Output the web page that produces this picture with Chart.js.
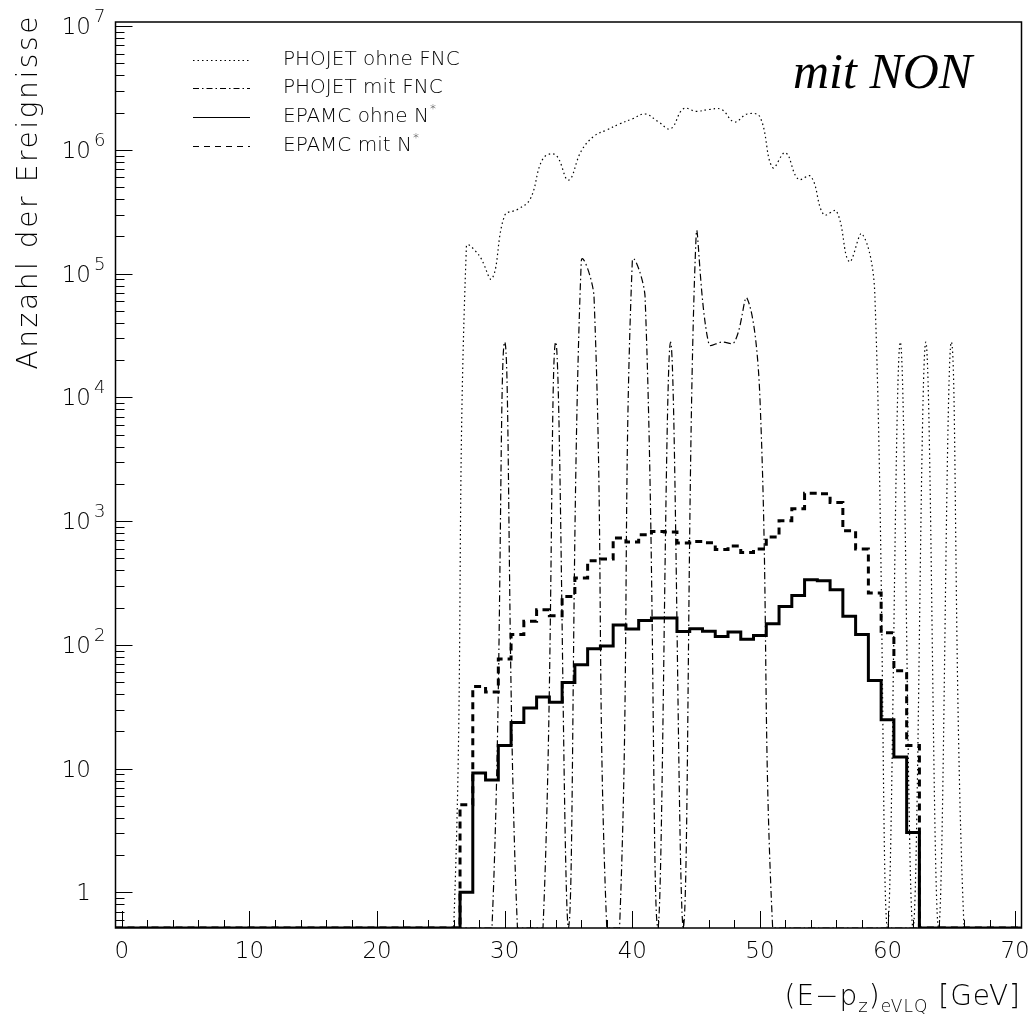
<!DOCTYPE html>
<html>
<head>
<meta charset="utf-8">
<script src="https://cdn.jsdelivr.net/npm/chart.js@4.4.1/dist/chart.umd.min.js"></script>
<style>
  html, body { margin: 0; padding: 0; background: #fff; }
  #wrap { width: 1032px; height: 1020px; }
</style>
</head>
<body>
<div id="wrap"><canvas id="chart" width="1032" height="1020"></canvas></div>
<script>
// bin centres of the (E-pz) histograms, 1 GeV bins
const binCenters = [
  0, 1, 2, 3, 4, 5, 6, 7, 8, 9, 10, 11, 12, 13, 14, 15, 16, 17, 18, 19,
  20, 21, 22, 23, 24, 25, 26, 27, 28, 29, 30, 31, 32, 33, 34, 35, 36, 37, 38, 39,
  40, 41, 42, 43, 44, 45, 46, 47, 48, 49, 50, 51, 52, 53, 54, 55, 56, 57, 58, 59,
  60, 61, 62, 63, 64, 65, 66, 67, 68, 69, 70
];

// PHOJET ohne FNC (smooth dotted curve)
const phojetOhneFNC = [
  0, 0, 0, 0, 0, 0, 0, 0, 0, 0, 0, 0, 0, 0, 0, 0, 0, 0, 0, 0,
  0, 0, 0, 0, 0, 0, 0, 1.66e5, 1.4e5, 9.1e4, 2.95e5, 3.3e5, 4.0e5, 8.5e5, 9.1e5, 5.7e5, 9.8e5, 1.29e6, 1.45e6, 1.62e6,
  1.78e6, 1.95e6, 1.7e6, 1.48e6, 2.15e6, 2.05e6, 2.12e6, 2.12e6, 1.68e6, 1.95e6, 1.85e6, 7.2e5, 9.5e5, 5.8e5, 6.1e5, 3.0e5, 3.2e5, 1.25e5, 2.1e5, 7e4,
  0, 2.8e4, 0, 2.8e4, 0, 2.8e4, 0, 0, 0, 0, 0
];

// PHOJET mit FNC (smooth dash-dotted curve)
const phojetMitFNC = [
  0, 0, 0, 0, 0, 0, 0, 0, 0, 0, 0, 0, 0, 0, 0, 0, 0, 0, 0, 0,
  0, 0, 0, 0, 0, 0, 0, 0, 0, 0, 2.8e4, 0, 0, 0, 2.8e4, 0, 1.25e5, 6.5e4, 0, 0,
  1.25e5, 6.5e4, 0, 2.8e4, 0, 2.0e5, 2.7e4, 2.8e4, 2.8e4, 6.3e4, 1.0e4, 0, 0, 0, 0, 0, 0, 0, 0, 0,
  0, 0, 0, 0, 0, 0, 0, 0, 0, 0, 0
];

// EPAMC ohne N* (solid histogram)
const epamcOhneN = [
  0, 0, 0, 0, 0, 0, 0, 0, 0, 0, 0, 0, 0, 0, 0, 0, 0, 0, 0, 0,
  0, 0, 0, 0, 0, 0, 0, 1.0, 9.2, 8.1, 15.4, 23.6, 30.9, 37.9, 34.3, 49.7, 69, 93, 98, 145,
  134, 157, 165, 165, 128, 135, 129, 117, 127, 111, 119, 148, 204, 250, 336, 329, 279, 170, 121, 51.6,
  24.8, 12.4, 3.05, 0, 0, 0, 0, 0, 0, 0, 0
];

// EPAMC mit N* (dashed histogram)
const epamcMitN = [
  0, 0, 0, 0, 0, 0, 0, 0, 0, 0, 0, 0, 0, 0, 0, 0, 0, 0, 0, 0,
  0, 0, 0, 0, 0, 0, 0, 5.1, 46, 41.6, 77, 121, 155, 192, 172, 246, 347, 478, 493, 729,
  677, 775, 824, 815, 664, 684, 668, 590, 630, 557, 594, 743, 1005, 1257, 1683, 1660, 1413, 835, 594, 262,
  125, 61.8, 15.4, 0, 0, 0, 0, 0, 0, 0, 0
];

const xMin = -0.5, xMax = 70.5;
const yMin = 0.515, yMax = 1.08e7;
const xLabelTicks = [0, 10, 20, 30, 40, 50, 60, 70];

const FONT = "'DejaVu Sans', sans-serif";

// empty bins sit on the lower edge of the log axis
function curvePoints(vals) {
  return vals.map((v, i) => ({ x: binCenters[i], y: Math.max(v, yMin) }));
}
function histPoints(vals) {
  const pts = vals.map((v, i) => ({ x: binCenters[i] - 0.5, y: Math.max(v, yMin) }));
  const last = vals.length - 1;
  pts.push({ x: binCenters[last] + 0.5, y: Math.max(vals[last], yMin) });
  return pts;
}

const legendDash = [[1.5, 3], [6, 3, 1.5, 3], [], [6, 5]];

const decor = {
  id: 'decor',
  afterDraw(chart) {
    const { ctx, chartArea: a } = chart;
    const xs = chart.scales.x, ys = chart.scales.y;
    ctx.save();
    ctx.strokeStyle = '#000';
    ctx.fillStyle = '#000';
    ctx.lineWidth = 1;

    // inward ticks
    ys.ticks.forEach(t => {
      const py = Math.round(ys.getPixelForValue(t.value)) + 0.5;
      ctx.beginPath();
      ctx.moveTo(a.left, py);
      ctx.lineTo(a.left + (t.major ? 17 : 9), py);
      ctx.stroke();
    });
    xs.ticks.forEach(t => {
      const px = Math.round(xs.getPixelForValue(t.value)) + 0.5;
      ctx.beginPath();
      ctx.moveTo(px, a.bottom);
      ctx.lineTo(px, a.bottom - (t.major ? 17 : 8));
      ctx.stroke();
    });

    // frame
    ctx.lineWidth = 1.5;
    ctx.strokeRect(a.left, a.top, a.right - a.left, a.bottom - a.top);

    // y labels
    ys.ticks.filter(t => t.major).forEach(t => {
      const py = ys.getPixelForValue(t.value);
      const e = Math.round(Math.log10(t.value));
      ctx.font = '200 23px ' + FONT;
      ctx.textAlign = 'right';
      ctx.textBaseline = 'alphabetic';
      ctx.fillText(e === 0 ? '1' : '10', 91, py + 8);
      if (e > 1) {
        ctx.font = '200 18px ' + FONT;
        ctx.textAlign = 'left';
        ctx.fillText(String(e), 94, py - 4);
      }
    });

    // x labels
    ctx.font = '200 23px ' + FONT;
    ctx.textAlign = 'center';
    ctx.textBaseline = 'alphabetic';
    xLabelTicks.forEach(v => {
      ctx.fillText(String(v), xs.getPixelForValue(v), 958);
    });

    // x title with subscripts, right aligned
    const parts = [
      ['(E\u2212p', 28, 0], ['z', 18, 7], [')', 28, 0], ['eVLQ', 17, 7], [' [GeV]', 28, 0]
    ];
    ctx.letterSpacing = '1px';
    let w = 0;
    parts.forEach(p => { ctx.font = '200 ' + p[1] + 'px ' + FONT; w += ctx.measureText(p[0]).width; });
    let cx = 1021 - w;
    ctx.textAlign = 'left';
    parts.forEach(p => {
      ctx.font = '200 ' + p[1] + 'px ' + FONT;
      ctx.fillText(p[0], cx, 1005 + p[2]);
      cx += ctx.measureText(p[0]).width;
    });

    // y title
    ctx.save();
    ctx.translate(30, 14);
    ctx.rotate(-Math.PI / 2);
    ctx.font = '200 28px ' + FONT;
    ctx.letterSpacing = '2.6px';
    ctx.textAlign = 'right';
    ctx.textBaseline = 'middle';
    ctx.fillText('Anzahl der Ereignisse', 0, 0);
    ctx.restore();
    ctx.letterSpacing = '0px';

    // legend
    const rows = [60, 88, 117, 146];
    chart.data.datasets.forEach((ds, i) => {
      const y = rows[i] + 0.5;
      ctx.lineWidth = 1;
      ctx.setLineDash(legendDash[i]);
      ctx.beginPath();
      ctx.moveTo(193, y);
      ctx.lineTo(250, y);
      ctx.stroke();
      ctx.setLineDash([]);
      ctx.font = '200 20px ' + FONT;
      ctx.textAlign = 'left';
      ctx.textBaseline = 'middle';
      let label = ds.label, star = false;
      if (label.endsWith('*')) { label = label.slice(0, -1); star = true; }
      ctx.fillText(label, 283, rows[i]);
      if (star) {
        const lw = ctx.measureText(label).width;
        ctx.font = '200 12px ' + FONT;
        ctx.fillText('*', 283 + lw + 1, rows[i] - 7);
      }
    });

    // title
    ctx.font = "italic 50px 'Liberation Serif', serif";
    ctx.textAlign = 'left';
    ctx.textBaseline = 'alphabetic';
    ctx.fillText('mit NON', 793, 88);

    ctx.restore();
  }
};

const chart = new Chart(document.getElementById('chart'), {
  type: 'line',
  data: {
    datasets: [
      {
        label: 'PHOJET ohne FNC',
        data: curvePoints(phojetOhneFNC),
        borderColor: '#000', borderWidth: 1.2, borderDash: [1.5, 3],
        tension: 0.4, pointRadius: 0, fill: false
      },
      {
        label: 'PHOJET mit FNC',
        data: curvePoints(phojetMitFNC),
        borderColor: '#000', borderWidth: 1.2, borderDash: [7, 3, 1.5, 3],
        tension: 0.4, pointRadius: 0, fill: false
      },
      {
        label: 'EPAMC ohne N*',
        data: histPoints(epamcOhneN),
        borderColor: '#000', borderWidth: 3, stepped: true,
        pointRadius: 0, fill: false
      },
      {
        label: 'EPAMC mit N*',
        data: histPoints(epamcMitN),
        borderColor: '#000', borderWidth: 3, borderDash: [7, 5], stepped: true,
        pointRadius: 0, fill: false
      }
    ]
  },
  options: {
    responsive: false,
    devicePixelRatio: 1,
    animation: false,
    layout: { padding: { top: 22, right: 10.5, bottom: 0, left: 0 } },
    plugins: { legend: { display: false }, tooltip: { enabled: false } },
    scales: {
      x: {
        type: 'linear', min: xMin, max: xMax,
        grid: { display: false }, border: { display: false },
        ticks: { display: false },
        afterBuildTicks: (scale) => {
          const t = [];
          for (let v = 0; v <= 70; v += 2) t.push({ value: v, major: v % 10 === 0 });
          scale.ticks = t;
        },
        afterFit: (scale) => { scale.height = 92; }
      },
      y: {
        type: 'logarithmic', min: yMin, max: yMax,
        grid: { display: false }, border: { display: false },
        ticks: { display: false },
        afterBuildTicks: (scale) => {
          const t = [];
          for (let e = -1; e <= 7; e++) {
            for (let k = 1; k <= 9; k++) {
              const v = k * Math.pow(10, e);
              if (v >= scale.min && v <= scale.max) t.push({ value: v, major: k === 1 });
            }
          }
          scale.ticks = t;
        },
        afterFit: (scale) => { scale.width = 115.5; }
      }
    }
  },
  plugins: [decor]
});
</script>
</body>
</html>
